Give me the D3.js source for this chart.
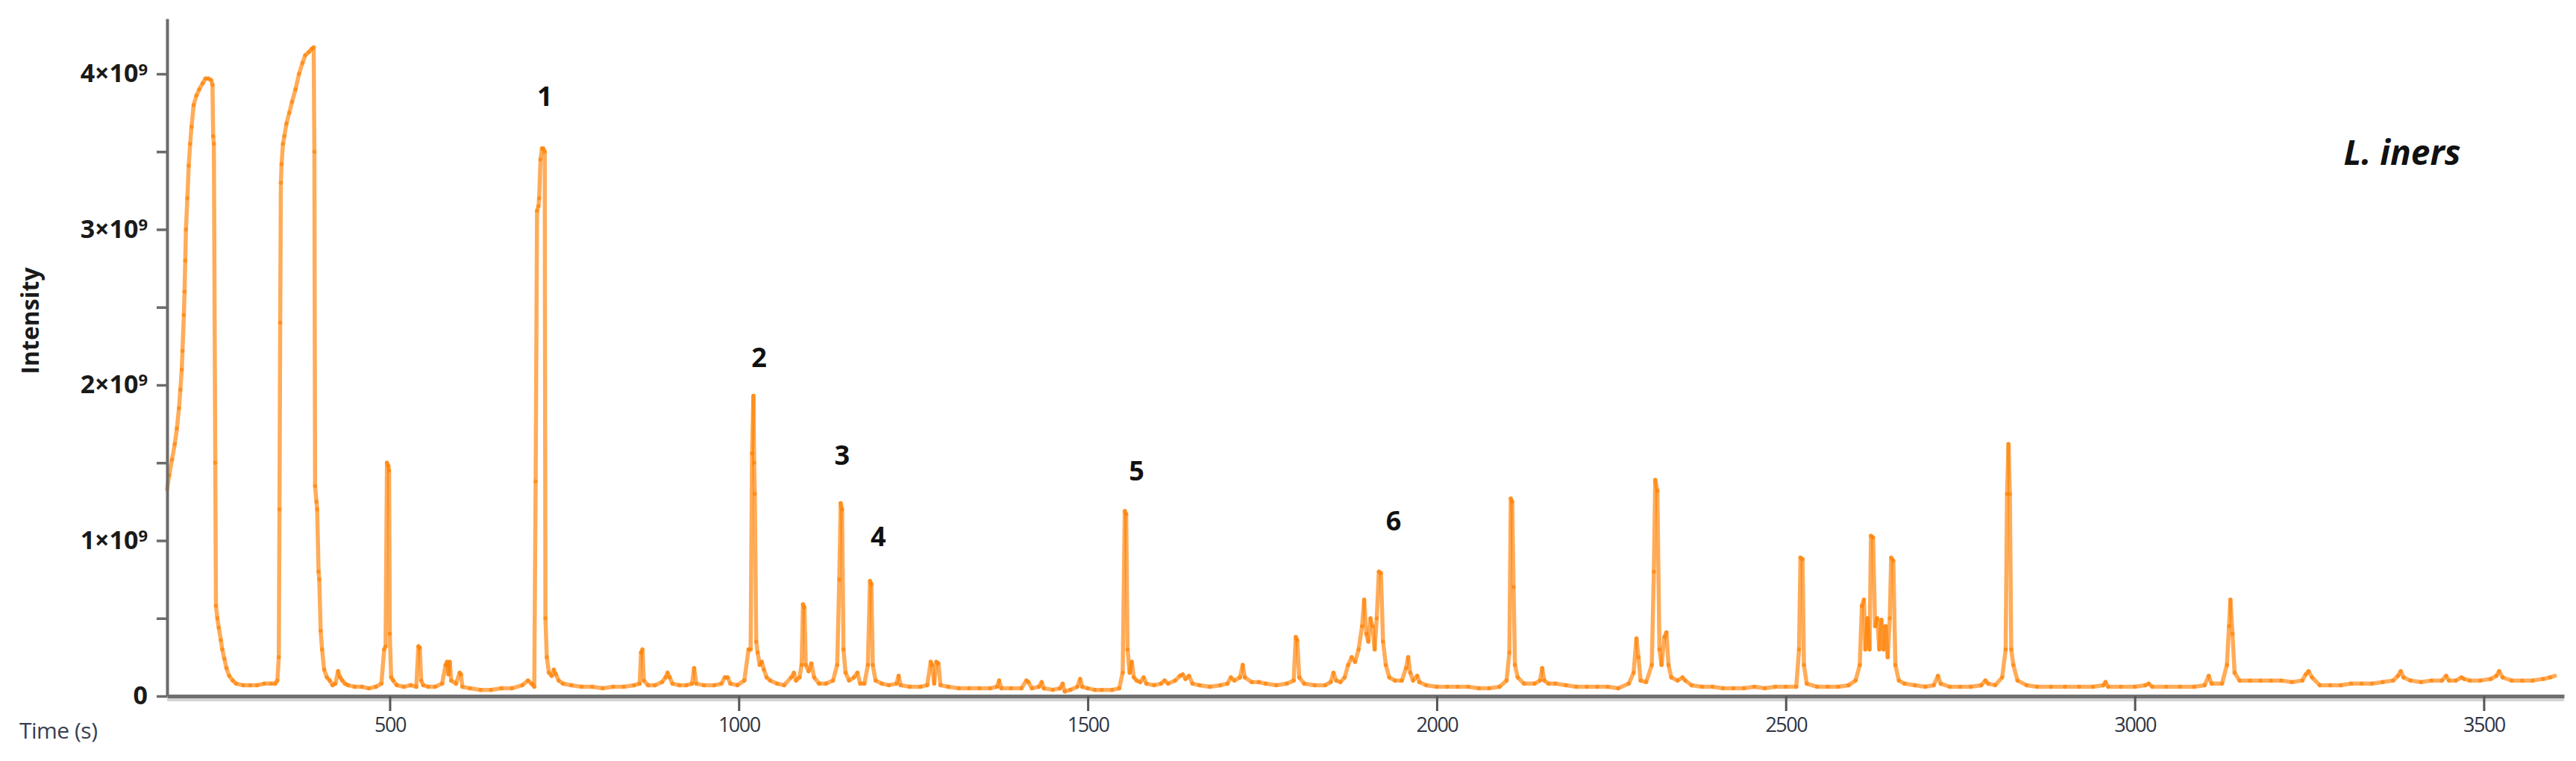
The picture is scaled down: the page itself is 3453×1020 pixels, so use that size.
<!DOCTYPE html>
<html>
<head>
<meta charset="utf-8">
<script src="https://cdn.jsdelivr.net/npm/d3@7"></script>
<style>
html, body { margin: 0; padding: 0; background: #fff; }
svg { display: block; }
</style>
</head>
<body>
<div id="chart"></div>
<script>
// chromatogram: time in seconds, intensity in units of 10^9
var time_s = [
  181, 184, 188, 192, 195, 198, 200, 202, 203, 205, 206, 207, 208, 210, 212, 214, 216, 219, 223, 227,
  232, 236, 240, 244, 246, 247, 248, 250, 251, 253, 255, 258, 260, 263, 266, 270, 275, 280, 290, 300,
  310, 320, 330, 336, 339, 341, 342, 343, 344, 345, 347, 349, 352, 356, 360, 365, 370, 375, 379, 384,
  388, 391, 392, 393, 395, 396, 398, 399, 401, 403, 406, 410, 414, 418, 422, 426, 429, 432, 436, 440,
  450, 460, 470, 480, 488, 492, 494, 496, 498, 499, 500, 502, 505, 510, 520, 530, 538, 541, 543, 545,
  548, 555, 565, 575, 580, 582, 584, 586, 588, 595, 600, 602, 604, 615, 630, 645, 660, 675, 690, 698,
  703, 707, 709, 711, 713, 714, 716, 718, 720, 722, 723, 725, 728, 732, 735, 738, 742, 748, 760, 775,
  790, 805, 820, 835, 850, 858, 860, 862, 864, 870, 880, 890, 895, 898, 901, 905, 915, 925, 933, 936,
  939, 950, 965, 975, 980, 984, 988, 998, 1008, 1014, 1017, 1019, 1021, 1022, 1023, 1025, 1027, 1030, 1033, 1036,
  1040, 1045, 1055, 1065, 1075, 1079, 1082, 1087, 1090, 1092, 1094, 1096, 1100, 1104, 1108, 1115, 1125, 1135, 1141, 1144,
  1146, 1148, 1150, 1153, 1158, 1165, 1170, 1174, 1180, 1185, 1188, 1190, 1192, 1196, 1205, 1215, 1226, 1229, 1232, 1245,
  1260, 1270, 1275, 1277, 1280, 1283, 1286, 1289, 1300, 1315, 1330, 1345, 1360, 1370, 1373, 1376, 1390, 1405, 1412, 1415,
  1420, 1430, 1434, 1437, 1450, 1460, 1464, 1467, 1475, 1485, 1489, 1492, 1500, 1510, 1520, 1535, 1545, 1550, 1553, 1555,
  1557, 1560, 1563, 1566, 1570, 1575, 1580, 1584, 1595, 1605, 1610, 1615, 1625, 1632, 1636, 1640, 1645, 1650, 1660, 1675,
  1690, 1700, 1705, 1710, 1718, 1722, 1725, 1735, 1745, 1755, 1770, 1785, 1795, 1798, 1800, 1803, 1810, 1825, 1840, 1848,
  1852, 1856, 1862, 1868, 1873, 1878, 1883, 1888, 1893, 1896, 1899, 1902, 1905, 1908, 1911, 1914, 1917, 1920, 1923, 1927,
  1932, 1940, 1950, 1956, 1959, 1962, 1966, 1972, 1975, 1985, 2000, 2015, 2030, 2045, 2060, 2075, 2090, 2100, 2104, 2106,
  2108, 2110, 2112, 2116, 2125, 2140, 2148, 2151, 2154, 2160, 2170, 2185, 2200, 2215, 2230, 2245, 2260, 2275, 2282, 2286,
  2289, 2292, 2300, 2308, 2311, 2313, 2316, 2319, 2322, 2326, 2329, 2332, 2336, 2345, 2352, 2356, 2365, 2380, 2395, 2410,
  2425, 2440, 2455, 2470, 2485, 2500, 2515, 2519, 2521, 2524, 2526, 2530, 2545, 2560, 2575, 2590, 2600, 2606, 2609, 2612,
  2614, 2617, 2620, 2622, 2625, 2628, 2631, 2634, 2637, 2640, 2643, 2646, 2649, 2651, 2654, 2657, 2662, 2670, 2685, 2700,
  2712, 2718, 2722, 2735, 2750, 2765, 2780, 2786, 2790, 2800, 2810, 2815, 2817, 2819, 2821, 2823, 2826, 2832, 2845, 2860,
  2880, 2900, 2920, 2940, 2955, 2958, 2962, 2980, 3000, 3015, 3020, 3025, 3045, 3065, 3085, 3100, 3106, 3110, 3125, 3132,
  3135, 3137, 3140, 3143, 3150, 3165, 3180, 3195, 3210, 3225, 3240, 3245, 3249, 3254, 3265, 3280, 3295, 3310, 3325, 3340,
  3355, 3370, 3377, 3381, 3385, 3395, 3410, 3425, 3440, 3446, 3450, 3460, 3468, 3472, 3480, 3495, 3510, 3518, 3522, 3527,
  3540, 3555, 3570, 3585, 3595, 3602
];
var intensity = [
  1.33, 1.42, 1.52, 1.62, 1.72, 1.85, 1.97, 2.10, 2.22, 2.45, 2.60, 2.80, 3.00, 3.20, 3.41, 3.55, 3.66, 3.80, 3.86, 3.90,
  3.94, 3.97, 3.97, 3.96, 3.93, 3.60, 3.55, 1.50, 0.58, 0.50, 0.44, 0.36, 0.30, 0.24, 0.18, 0.13, 0.10, 0.08, 0.07, 0.07,
  0.07, 0.08, 0.08, 0.08, 0.10, 0.25, 1.20, 2.40, 3.30, 3.42, 3.55, 3.60, 3.68, 3.75, 3.82, 3.90, 4.00, 4.07, 4.12, 4.14,
  4.16, 4.17, 3.50, 1.35, 1.25, 1.20, 0.80, 0.75, 0.42, 0.30, 0.17, 0.12, 0.10, 0.07, 0.08, 0.16, 0.12, 0.10, 0.08, 0.07,
  0.06, 0.06, 0.05, 0.06, 0.08, 0.30, 0.32, 1.50, 1.48, 1.45, 0.40, 0.12, 0.10, 0.07, 0.06, 0.07, 0.06, 0.32, 0.31, 0.10,
  0.07, 0.06, 0.06, 0.08, 0.20, 0.22, 0.14, 0.22, 0.10, 0.08, 0.15, 0.14, 0.06, 0.05, 0.04, 0.04, 0.05, 0.05, 0.07, 0.10,
  0.08, 0.06, 1.38, 3.12, 3.15, 3.20, 3.45, 3.52, 3.52, 3.50, 0.50, 0.25, 0.15, 0.13, 0.17, 0.14, 0.10, 0.08, 0.07, 0.06,
  0.06, 0.05, 0.06, 0.06, 0.07, 0.08, 0.28, 0.30, 0.10, 0.07, 0.07, 0.09, 0.12, 0.15, 0.12, 0.08, 0.07, 0.07, 0.08, 0.18,
  0.08, 0.07, 0.07, 0.08, 0.12, 0.12, 0.08, 0.07, 0.10, 0.30, 0.30, 1.56, 1.93, 1.50, 1.30, 0.35, 0.28, 0.20, 0.22, 0.17,
  0.12, 0.10, 0.08, 0.07, 0.12, 0.15, 0.10, 0.12, 0.20, 0.59, 0.57, 0.20, 0.16, 0.21, 0.12, 0.08, 0.08, 0.10, 0.20, 0.75,
  1.24, 1.20, 0.30, 0.15, 0.10, 0.12, 0.15, 0.08, 0.08, 0.20, 0.74, 0.72, 0.20, 0.10, 0.08, 0.07, 0.08, 0.13, 0.07, 0.06,
  0.06, 0.07, 0.22, 0.20, 0.08, 0.22, 0.21, 0.07, 0.06, 0.05, 0.05, 0.05, 0.05, 0.06, 0.10, 0.05, 0.05, 0.05, 0.10, 0.09,
  0.05, 0.06, 0.09, 0.05, 0.04, 0.05, 0.08, 0.03, 0.04, 0.06, 0.11, 0.06, 0.05, 0.04, 0.04, 0.04, 0.05, 0.15, 1.19, 1.17,
  0.30, 0.15, 0.22, 0.12, 0.10, 0.09, 0.12, 0.08, 0.07, 0.08, 0.10, 0.08, 0.10, 0.13, 0.14, 0.11, 0.13, 0.08, 0.07, 0.06,
  0.07, 0.08, 0.12, 0.10, 0.12, 0.20, 0.12, 0.09, 0.09, 0.08, 0.07, 0.08, 0.10, 0.38, 0.36, 0.12, 0.08, 0.07, 0.07, 0.09,
  0.15, 0.10, 0.09, 0.12, 0.20, 0.25, 0.22, 0.30, 0.45, 0.62, 0.40, 0.35, 0.50, 0.45, 0.30, 0.50, 0.80, 0.79, 0.35, 0.20,
  0.12, 0.10, 0.10, 0.18, 0.25, 0.15, 0.10, 0.13, 0.09, 0.07, 0.06, 0.06, 0.06, 0.06, 0.05, 0.05, 0.06, 0.10, 0.28, 1.27,
  1.25, 0.70, 0.20, 0.12, 0.08, 0.08, 0.10, 0.18, 0.10, 0.08, 0.08, 0.07, 0.06, 0.06, 0.06, 0.06, 0.05, 0.08, 0.15, 0.37,
  0.25, 0.10, 0.09, 0.20, 0.80, 1.39, 1.32, 0.30, 0.20, 0.38, 0.41, 0.20, 0.12, 0.10, 0.12, 0.10, 0.07, 0.06, 0.06, 0.05,
  0.05, 0.05, 0.06, 0.05, 0.06, 0.06, 0.06, 0.30, 0.89, 0.88, 0.20, 0.08, 0.06, 0.06, 0.06, 0.07, 0.10, 0.20, 0.58, 0.62,
  0.30, 0.50, 0.30, 1.03, 1.02, 0.45, 0.50, 0.30, 0.49, 0.30, 0.45, 0.25, 0.50, 0.89, 0.87, 0.20, 0.10, 0.08, 0.07, 0.06,
  0.07, 0.13, 0.08, 0.06, 0.06, 0.06, 0.07, 0.10, 0.08, 0.07, 0.12, 0.30, 1.30, 1.62, 1.30, 0.30, 0.20, 0.10, 0.07, 0.06,
  0.06, 0.06, 0.06, 0.06, 0.07, 0.09, 0.06, 0.06, 0.06, 0.07, 0.08, 0.06, 0.06, 0.06, 0.06, 0.07, 0.13, 0.08, 0.08, 0.20,
  0.45, 0.62, 0.40, 0.15, 0.10, 0.10, 0.10, 0.10, 0.10, 0.09, 0.10, 0.14, 0.16, 0.12, 0.07, 0.07, 0.07, 0.08, 0.08, 0.08,
  0.09, 0.10, 0.13, 0.16, 0.12, 0.10, 0.09, 0.10, 0.10, 0.13, 0.10, 0.10, 0.12, 0.11, 0.10, 0.10, 0.11, 0.13, 0.16, 0.12,
  0.10, 0.10, 0.10, 0.11, 0.12, 0.13
];

var x_ticks       = [500, 1000, 1500, 2000, 2500, 3000, 3500];
var y_ticks       = [0, 0.5, 1, 1.5, 2, 2.5, 3, 3.5, 4];
var y_tick_labels = ['0', '', '1', '', '2', '', '3', '', '4'];

// numbered peaks: where the number sits (time, intensity in 10^9)
var peak_labels      = ['1', '2', '3', '4', '5', '6'];
var peak_label_time  = [722, 1029, 1148, 1200, 1570, 1938];
var peak_label_level = [3.86, 2.18, 1.55, 1.03, 1.45, 1.13];

var species_label = 'L. iners';

// Chart params
var svg_width  = 3453;
var svg_height = 1020;
var line_color = '#ff8000';

var svg = d3.select('#chart')
    .append('svg')
    .attr('width', svg_width)
    .attr('height', svg_height);

var x_scale = d3.scaleLinear()
    .domain([181, 3615])
    .range([224, 3437]);

var y_scale = d3.scaleLinear()
    .domain([0, 4.355])
    .range([933, 25]);

// the trace is drawn segment by segment with a half transparent stroke,
// so where the line folds back on itself (narrow peaks) it gets darker
var points = time_s.map(function(t, i) { return [t, intensity[i]]; });

svg.append('g')
    .attr('class', 'trace')
    .selectAll('line')
    .data(d3.pairs(points))
    .enter()
    .append('line')
    .attr('x1', function(d) { return x_scale(d[0][0]); })
    .attr('y1', function(d) { return y_scale(d[0][1]); })
    .attr('x2', function(d) { return x_scale(d[1][0]); })
    .attr('y2', function(d) { return y_scale(d[1][1]); })
    .attr('stroke', line_color)
    .attr('stroke-opacity', 0.65)
    .attr('stroke-width', 5.5)
    .attr('stroke-linecap', 'round');

// x axis, with a soft shadow under it
svg.append('line')
    .attr('x1', x_scale.range()[0])
    .attr('x2', x_scale.range()[1])
    .attr('y1', y_scale(0) + 5)
    .attr('y2', y_scale(0) + 5)
    .attr('stroke', '#d4d4d4')
    .attr('stroke-width', 4);

var x_axis = d3.axisBottom(x_scale)
    .tickValues(x_ticks)
    .tickSize(20)
    .tickSizeOuter(0)
    .tickPadding(9)
    .tickFormat(d3.format('d'));

var gx = svg.append('g')
    .attr('class', 'x-axis')
    .attr('transform', 'translate(0,' + y_scale(0) + ')')
    .call(x_axis);

gx.select('.domain').attr('stroke', '#707070').attr('stroke-width', 5);
gx.selectAll('.tick line').attr('stroke', '#555').attr('stroke-width', 3);
gx.selectAll('.tick text')
    .attr('font-family', '"Open Sans", sans-serif')
    .attr('font-size', '27px')
    .attr('letter-spacing', '-1.5px')
    .attr('fill', '#2f3544');

// y axis
var y_axis = d3.axisLeft(y_scale)
    .tickValues(y_ticks)
    .tickSize(14)
    .tickSizeOuter(0)
    .tickPadding(12)
    .tickFormat(function(d, i) { return ''; });

var gy = svg.append('g')
    .attr('class', 'y-axis')
    .attr('transform', 'translate(' + x_scale.range()[0] + ',0)')
    .call(y_axis);

gy.select('.domain').attr('stroke', '#6b6b6b').attr('stroke-width', 4);
gy.selectAll('.tick line').attr('stroke', '#6b6b6b').attr('stroke-width', 3.5);

gy.selectAll('.tick text')
    .attr('font-family', '"Open Sans", sans-serif')
    .attr('font-weight', 'bold')
    .attr('font-size', '34px')
    .attr('fill', '#1a1a1a')
    .each(function(d, i) {
        var label = y_tick_labels[i];
        var t = d3.select(this);
        if (label === '') return;
        if (label === '0') { t.text('0'); return; }
        t.text(label + '\u00d710');
        t.append('tspan')
            .attr('dy', '-0.45em')
            .attr('font-size', '22px')
            .text('9');
    });

// axis titles
svg.append('text')
    .attr('transform', 'translate(52,430) rotate(-90)')
    .attr('text-anchor', 'middle')
    .attr('font-family', '"Open Sans", sans-serif')
    .attr('font-weight', 'bold')
    .attr('font-size', '32px')
    .attr('fill', '#1a1a1a')
    .text('Intensity');

svg.append('text')
    .attr('x', 26)
    .attr('y', 990)
    .attr('font-family', '"Open Sans", sans-serif')
    .attr('font-size', '30px')
    .attr('letter-spacing', '-0.5px')
    .attr('fill', '#384050')
    .text('Time (s)');

// peak numbers
svg.append('g')
    .attr('class', 'peak-labels')
    .selectAll('text')
    .data(peak_labels)
    .enter()
    .append('text')
    .attr('x', function(d, i) { return x_scale(peak_label_time[i]); })
    .attr('y', function(d, i) { return y_scale(peak_label_level[i]); })
    .attr('text-anchor', 'middle')
    .attr('dominant-baseline', 'central')
    .attr('font-family', '"Open Sans", sans-serif')
    .attr('font-weight', 'bold')
    .attr('font-size', '36px')
    .attr('fill', '#111')
    .text(function(d) { return d; });

// species name
svg.append('text')
    .attr('x', 3220)
    .attr('y', 203)
    .attr('text-anchor', 'middle')
    .attr('dominant-baseline', 'central')
    .attr('font-family', '"Open Sans", sans-serif')
    .attr('font-weight', 'bold')
    .attr('font-style', 'italic')
    .attr('font-size', '46px')
    .attr('fill', '#111')
    .text(species_label);
</script>
</body>
</html>
